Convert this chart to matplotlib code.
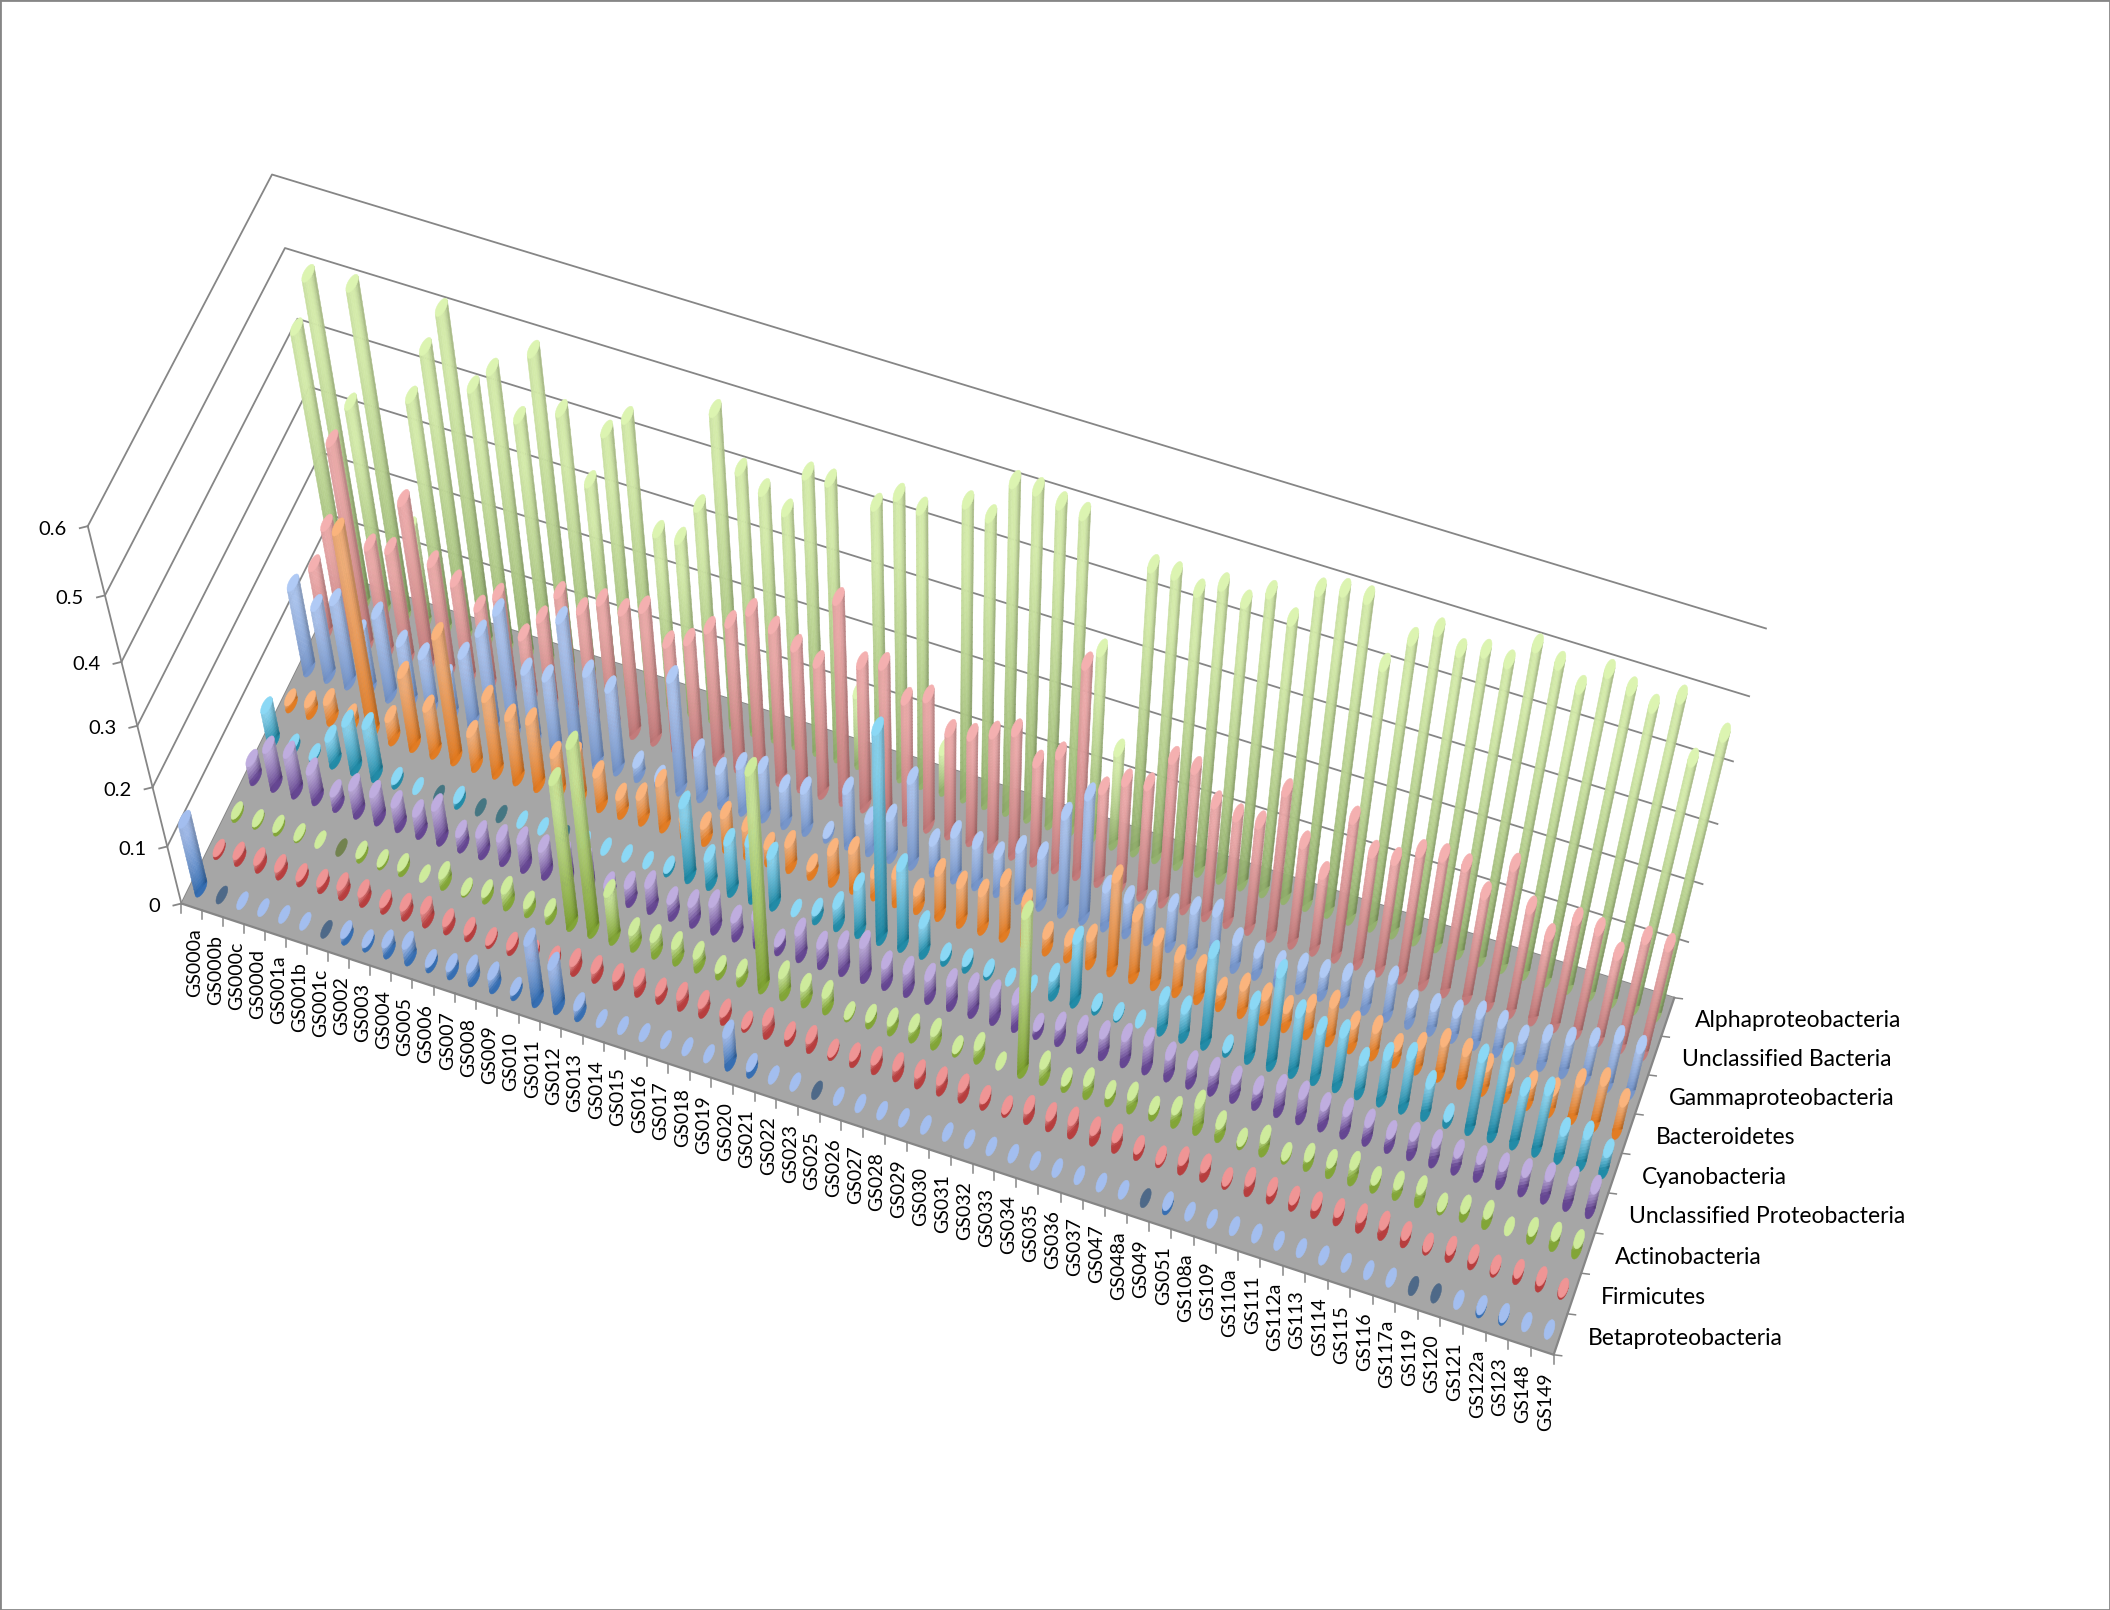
import numpy as np
import matplotlib
matplotlib.use("Agg")
import matplotlib.pyplot as plt
from matplotlib.collections import PolyCollection

plt.rcParams['font.family'] = ['Lato', 'DejaVu Sans']

samples = ["GS000a","GS000b","GS000c","GS000d","GS001a","GS001b","GS001c","GS002","GS003","GS004",
           "GS005","GS006","GS007","GS008","GS009","GS010","GS011","GS012","GS013","GS014",
           "GS015","GS016","GS017","GS018","GS019","GS020","GS021","GS022","GS023","GS025",
           "GS026","GS027","GS028","GS029","GS030","GS031","GS032","GS033","GS034","GS035",
           "GS036","GS037","GS047","GS048a","GS049","GS051","GS108a","GS109","GS110a","GS111",
           "GS112a","GS113","GS114","GS115","GS116","GS117a","GS119","GS120","GS121","GS122a",
           "GS123","GS148","GS149"]

# front to back
series_names = ["Betaproteobacteria","Firmicutes","Actinobacteria","Unclassified Proteobacteria",
                "Cyanobacteria","Bacteroidetes","Gammaproteobacteria","Unclassified Bacteria",
                "Alphaproteobacteria"]

value_ticks = [0, 0.1, 0.2, 0.3, 0.4, 0.5, 0.6]

beta = [.12,0,.002,.002,.002,.002,0,.012,.008,.02,.03,.01,.015,.025,.025,.01,.11,.08,.02,.002,
        .002,.002,.002,.002,.002,.06,.012,.002,.002,0,.002,.002,.002,.002,.002,.002,.002,.002,.002,.002,
        .002,.002,.002,.002,0,.008,.002,.002,.002,.002,.002,.002,.002,.002,.002,.002,0,0,.002,.006,
        .005,.002,.002]
firmicutes = [.005,.012,.014,.014,.01,.012,.018,.018,.012,.018,.025,.015,.012,.006,.01,.008,.01,.018,.018,.016,
              .02,.015,.02,.018,.015,.006,.025,.012,.018,.006,.012,.018,.02,.02,.02,.02,.012,.006,.02,.02,
              .025,.02,.02,.012,.006,.018,.018,.006,.02,.015,.012,.015,.016,.02,.02,.014,.006,.014,.012,.006,
              .012,.012,.004]
actino = [.006,.004,.006,.003,.002,0,.008,.005,.01,.002,.02,.003,.012,.03,.016,.015,.25,.32,.085,.03,
          .03,.03,.025,.012,.018,.37,.04,.03,.03,.004,.012,.018,.02,.025,.006,.025,.002,.28,.03,.012,
          .025,.015,.025,.012,.025,.05,.025,.006,.025,.006,.018,.02,.03,.015,.02,.025,.006,.016,.02,.002,
          .015,.02,.02]
uncl_proteo = [.033,.067,.07,.053,.027,.049,.049,.043,.039,.061,.027,.038,.043,.051,.049,.05,.05,.02,.033,.046,
               .03,.037,.049,.034,.05,.016,.048,.037,.05,.063,.039,.042,.042,.045,.05,.05,.05,.015,.03,.037,
               .04,.048,.053,.04,.037,.038,.035,.03,.046,.047,.039,.042,.035,.027,.037,.037,.032,.034,.034,.037,
               .043,.05,.047]
cyano = [.06,.008,.003,.046,.083,.09,.008,.002,0,.01,0,0,.002,.002,0,.002,.002,.002,.002,.006,
         .13,.05,.09,.10,.09,.002,.016,.04,.085,.354,.142,.055,.01,.012,.006,.002,.002,.036,.114,.007,
         .003,.002,.057,.053,.164,.008,.10,.168,.11,.093,.10,.063,.085,.098,.06,.012,.134,.15,.10,.114,
         .053,.06,.04]
bacteroidetes = [.012,.02,.035,.02,.33,.04,.125,.08,.21,.06,.13,.11,.115,.07,.08,.06,.033,.045,.08,.03,
                 .03,.06,.05,.03,.045,.016,.055,.07,.04,.05,.033,.08,.07,.068,.098,.075,.03,.03,.05,.165,
                 .11,.08,.063,.058,.03,.05,.045,.035,.05,.07,.045,.05,.03,.045,.065,.06,.045,.033,.04,.04,
                 .07,.085,.06]
gamma = [.142,.12,.14,.10,.14,.105,.095,.07,.118,.165,.21,.125,.125,.23,.155,.14,.025,.012,.19,.08,
         .06,.08,.085,.065,.073,.008,.096,.057,.073,.148,.054,.08,.073,.067,.09,.091,.17,.214,.069,.063,
         .067,.073,.08,.088,.05,.04,.034,.042,.043,.049,.049,.069,.039,.045,.046,.057,.053,.039,.053,.061,
         .073,.09,.085]
uncl_bact = [.115,.19,.33,.18,.185,.27,.185,.165,.135,.165,.11,.15,.20,.185,.21,.205,.22,.175,.19,.22,
             .24,.27,.253,.235,.22,.33,.24,.25,.205,.22,.175,.18,.195,.21,.17,.195,.35,.16,.185,.19,
             .245,.24,.195,.185,.185,.25,.175,.135,.24,.195,.195,.22,.225,.22,.185,.245,.185,.15,.19,.185,
             .155,.195,.195]
alpha = [.42,.505,.33,.51,.16,.37,.45,.515,.415,.45,.39,.495,.42,.325,.41,.44,.28,.28,.34,.49,
         .415,.395,.375,.44,.44,.12,.425,.45,.44,.07,.47,.46,.52,.52,.51,.505,.31,.16,.46,.46,
         .445,.465,.45,.475,.445,.50,.51,.51,.42,.47,.495,.475,.485,.48,.515,.50,.475,.51,.495,.48,
         .505,.42,.47]

all_series = [beta, firmicutes, actino, uncl_proteo, cyano, bacteroidetes, gamma, uncl_bact, alpha]

# colour at the top of a bar, at its foot
top_cols = ["#9DB7E6","#E68F8F","#C6E296","#B8A6D6","#86D0EC","#F0AD78","#A9C2EC","#EBA9A9","#D4EBAA"]
low_cols = ["#2A66AC","#B23535","#7A9E2C","#5C3B8A","#17839F","#E0761A","#7090C6","#BE7676","#8DAA68"]
grid_col = "#868686"
floor_col = "#A6A6A6"

# box corners (sample axis 0-1, series axis 0-1, value) and where they sit in the picture
anchors = [(0,0,0,180.5,904),(1,0,0,1554,1354),(1,1,0,1674,998),(0,1,0,345,575),
           (0,0,.1,167,846),(0,0,.2,151.5,788),(0,0,.3,137,726.5),(0,0,.4,121.6,661.7),(0,0,.5,106,595),(0,0,.6,89,526),
           (1,1,.1,1687.5,943),(1,1,.2,1703,885),(1,1,.3,1717,823.5),(1,1,.4,1733,762),(1,1,.5,1749.5,695),(1,1,.6,1766,628),
           (0,1,.6,271,174.5),(0,1,.5,284,249)]

def fit_camera(points):
    rows, rhs = [], []
    for c, s, v, px, py in points:
        rows.append([c,s,v,1,0,0,0,0,-px*c,-px*s,-px*v]); rhs.append(px)
        rows.append([0,0,0,0,c,s,v,1,-py*c,-py*s,-py*v]); rhs.append(py)
    m = np.linalg.lstsq(np.array(rows, float), np.array(rhs, float), rcond=None)[0]
    return np.append(m, 1).reshape(3, 4)

cam = fit_camera(anchors)

def project(c, s, v):
    c, s, v = np.asarray(c, float), np.asarray(s, float), np.asarray(v, float)
    w = cam[2,0]*c + cam[2,1]*s + cam[2,2]*v + cam[2,3]
    x = (cam[0,0]*c + cam[0,1]*s + cam[0,2]*v + cam[0,3]) / w
    y = (cam[1,0]*c + cam[1,1]*s + cam[1,2]*v + cam[1,3]) / w
    return np.array([x, y])

def rgb(h):
    return np.array(matplotlib.colors.to_rgb(h))

n_cat = len(samples)
n_ser = len(series_names)
rad_c = 0.19 / n_cat
rad_s = 0.24 / n_ser
ang = np.linspace(0, 2*np.pi, 25)[:-1]

def circle(c, s, v):
    return project(c + rad_c*np.cos(ang), s + rad_s*np.sin(ang), v*np.ones_like(ang)).T

def add_bar(polys, cols, i, j, val):
    c = (i + .5) / n_cat
    s = (j + .5) / n_ser
    top, low = rgb(top_cols[j]), rgb(low_cols[j])
    foot_ring = circle(c, s, 0)
    if val == 0:
        polys.append(foot_ring)
        cols.append(low*0.45 + np.array([.42,.42,.42])*0.55)
        return
    head_ring = circle(c, s, val)
    axis = head_ring.mean(axis=0) - foot_ring.mean(axis=0)
    size = np.hypot(*axis)
    if size > 1.5:
        d = axis / size
        n = np.array([-d[1], d[0]])
        if n[0] < 0:
            n = -n
        # silhouette of the cylinder touches each ring at its outermost points
        foot_l = foot_ring[np.argmin(foot_ring @ n)]
        foot_r = foot_ring[np.argmax(foot_ring @ n)]
        head_l = head_ring[np.argmin(head_ring @ n)]
        head_r = head_ring[np.argmax(head_ring @ n)]
        nt = int(np.clip(size/3, 5, 40))
        nu = 8
        ts = np.linspace(0, 1, nt+1)
        us = np.linspace(0, 1, nu+1)
        polys.append(foot_ring)
        cols.append(low*0.9 + top*0.1)
        for a in range(nt):
            left0 = foot_l + (head_l-foot_l)*ts[a]
            left1 = foot_l + (head_l-foot_l)*ts[a+1]
            right0 = foot_r + (head_r-foot_r)*ts[a]
            right1 = foot_r + (head_r-foot_r)*ts[a+1]
            tm = (ts[a] + ts[a+1]) / 2
            mix = min(1, (tm*1.25)**0.7)
            for b in range(nu):
                u0, u1 = us[b], us[b+1]
                polys.append(np.array([left0 + (right0-left0)*u0, left0 + (right0-left0)*u1,
                                       left1 + (right1-left1)*u1, left1 + (right1-left1)*u0]))
                um = u0 + u1 - 1
                shade = 1 - 0.26*max(0, um)**2 - 0.08*max(0, -um-.3)
                cols.append(np.clip((low + (top-low)*mix)*shade, 0, 1))
    polys.append(head_ring)
    cols.append(np.clip(top*1.04, 0, 1))

fig = plt.figure(figsize=(21.1, 16.1), dpi=100)
ax = fig.add_axes([0, 0, 1, 1])
ax.set_xlim(0, 2110)
ax.set_ylim(1610, 0)
ax.set_xticks([])
ax.set_yticks([])
for sp in ax.spines.values():
    sp.set_color(grid_col)
    sp.set_linewidth(2)

# walls
for v in value_ticks:
    p = project([0, 0, 1], [0, 1, 1], [v, v, v])
    ax.plot(p[0], p[1], color=grid_col, lw=1.3, zorder=1)
    t = project(0, 0, v)
    ax.plot([t[0]-8, t[0]], [t[1]+2, t[1]], color=grid_col, lw=1.3, zorder=1)
    ax.text(t[0]-21, t[1]+3, "%g" % v, ha="right", va="center", fontsize=14.5, color="black")
p = project([0, 0], [0, 0], [0, .6])
ax.plot(p[0], p[1], color=grid_col, lw=1.3, zorder=1)

# floor
fl = project([0, 1, 1, 0], [0, 0, 1, 1], [0, 0, 0, 0])
ax.fill(fl[0], fl[1], color=floor_col, lw=0, zorder=2)
edge = project([0, 1, 1], [0, 0, 1], [0, 0, 0])
ax.plot(edge[0], edge[1], color=grid_col, lw=1.6, zorder=2)

# sample ticks and labels
for i in range(n_cat + 1):
    t = project(i / n_cat, 0, 0)
    ax.plot([t[0], t[0]], [t[1], t[1]+9], color=grid_col, lw=1.1, zorder=2)
for i, name in enumerate(samples):
    t = project((i + .5) / n_cat, 0, 0)
    ax.text(t[0]+3, t[1]+21, name, rotation=90, ha="center", va="top", fontsize=14, color="black")

# series ticks and labels
for j in range(n_ser + 1):
    t = project(1, j / n_ser, 0)
    ax.plot([t[0], t[0]+8], [t[1], t[1]+1], color=grid_col, lw=1.1, zorder=2)
for j, name in enumerate(series_names):
    t = project(1, (j + .5) / n_ser, 0)
    ax.text(t[0]+27, t[1]+4, name, ha="left", va="center", fontsize=16.5, color="black")

# bars, back row first
polys, cols = [], []
for j in range(n_ser - 1, -1, -1):
    for i in range(n_cat):
        add_bar(polys, cols, i, j, all_series[j][i])
coll = PolyCollection(polys, facecolors=cols, edgecolors="face", linewidths=0.35, zorder=3)
ax.add_collection(coll)

fig.savefig("out.png", dpi=100)
